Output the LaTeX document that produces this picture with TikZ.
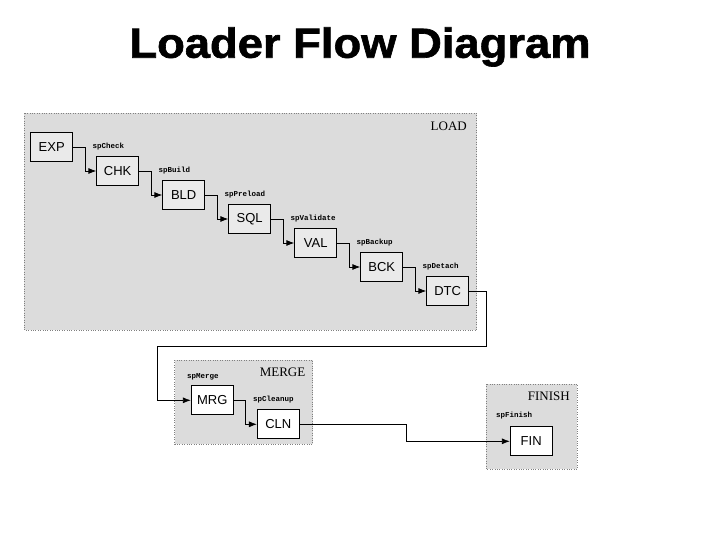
\documentclass[tikz,border=0pt]{standalone}
\usepackage{fontspec}
\setmainfont{Liberation Serif}
\setsansfont{Liberation Sans}
\setmonofont{Liberation Mono}
\newfontfamily\titlefont[FakeStretch=1.08,FakeBold=1.5]{Liberation Sans Bold}
\usetikzlibrary{arrows.meta}
\definecolor{grpfill}{RGB}{220,220,220}
\definecolor{boxfill}{RGB}{234,234,234}

\begin{document}
\begin{tikzpicture}[x=1pt,y=1pt,>={Latex[length=8pt,width=6pt]},
	proc/.style={draw,fill=white,line width=0.7pt,minimum width=42pt,minimum height=29pt,inner sep=0pt,font=\sffamily\fontsize{13}{13}\selectfont},
	ldproc/.style={proc,fill=boxfill},
	grp/.style={draw=gray,dotted,fill=grpfill},
	grpname/.style={anchor=east,inner sep=0pt,font=\fontsize{13}{13}\selectfont},
	call/.style={anchor=base west,inner sep=0pt,font=\ttfamily\bfseries\fontsize{7.5}{7.5}\selectfont},
	flow/.style={->,line width=0.8pt}]
	\fill[white] (0,0) rectangle (720,-540);
	\useasboundingbox (0,0) rectangle (720,-540);
	% title
	\node[anchor=base,font=\titlefont\fontsize{42}{42}\selectfont] (title) at (360,-57.7) {Loader Flow Diagram};
	% groups
	\draw[grp] (24,-113.5) rectangle (476.5,-330);
	\draw[grp] (174.5,-360) rectangle (312.5,-444);
	\draw[grp] (486,-384) rectangle (577,-469);
	\node[grpname] (tload) at (467,-126) {LOAD};
	\node[grpname] (tmerge) at (305.5,-372) {MERGE};
	\node[grpname] (tfinish) at (570,-396) {FINISH};
	% load steps
	\node[ldproc] (exp) at (51.7,-147) {EXP};
	\node[ldproc] (chk) at (117.7,-171) {CHK};
	\node[ldproc] (bld) at (183.7,-195) {BLD};
	\node[ldproc] (sql) at (249.7,-219) {SQL};
	\node[ldproc] (val) at (315.7,-243) {VAL};
	\node[ldproc] (bck) at (381.7,-267) {BCK};
	\node[ldproc] (dtc) at (447.7,-291) {DTC};
	% merge and finish steps
	\node[proc] (mrg) at (212.2,-400.3) {MRG};
	\node[proc] (cln) at (278.3,-424.3) {CLN};
	\node[proc] (fin) at (531.2,-441.3) {FIN};
	% calls
	\node[call] (lchk) at ([shift={(-4,8)}]chk.north west) {spCheck};
	\node[call] (lbld) at ([shift={(-4,8)}]bld.north west) {spBuild};
	\node[call] (lsql) at ([shift={(-4,8)}]sql.north west) {spPreload};
	\node[call] (lval) at ([shift={(-4,8)}]val.north west) {spValidate};
	\node[call] (lbck) at ([shift={(-4,8)}]bck.north west) {spBackup};
	\node[call] (ldtc) at ([shift={(-4,8)}]dtc.north west) {spDetach};
	\node[call] (lmrg) at ([shift={(-4,7)}]mrg.north west) {spMerge};
	\node[call] (lcln) at ([shift={(-4,8)}]cln.north west) {spCleanup};
	\node[call] (lfin) at ([shift={(-14,9)}]fin.north west) {spFinish};
	% connectors
	\draw[flow] (exp.east) -- ++(12,0) |- (chk.west);
	\draw[flow] (chk.east) -- ++(12,0) |- (bld.west);
	\draw[flow] (bld.east) -- ++(12,0) |- (sql.west);
	\draw[flow] (sql.east) -- ++(12,0) |- (val.west);
	\draw[flow] (val.east) -- ++(12,0) |- (bck.west);
	\draw[flow] (bck.east) -- ++(12,0) |- (dtc.west);
	\coordinate (turn) at (157,-346);
	\draw[flow] (dtc.east) -- ++(17,0) |- (turn) |- (mrg.west);
	\draw[flow] (mrg.east) -- ++(12,0) |- (cln.west);
	\draw[flow] (cln.east) -- ++(107,0) |- (fin.west);
\end{tikzpicture}
\end{document}
